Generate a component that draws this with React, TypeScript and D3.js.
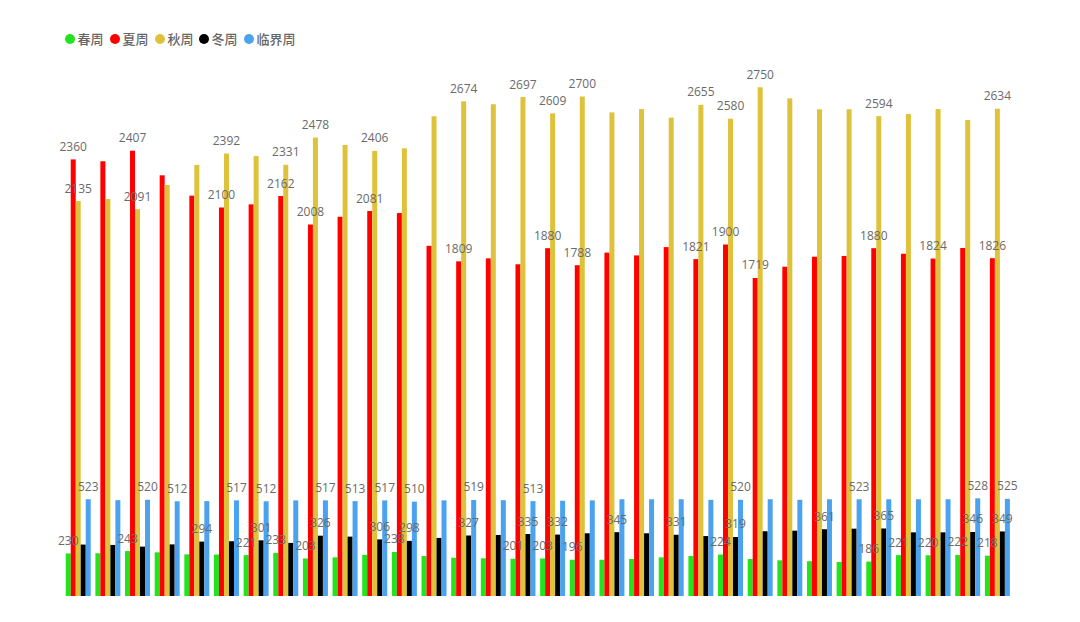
import React from "react";
import * as d3 from "d3";

const categories: string[] = Array.from({ length: 32 }, (_, i) => `第${i + 1}周`);

const seriesNames = ["春周", "夏周", "秋周", "冬周", "临界周"];
const seriesColors = ["#22e41c", "#ff0000", "#dfc23c", "#000000", "#4ba3ef"];

const spring = [230, 231, 243, 236, 225, 224, 221, 233, 203, 209, 222, 238, 216, 207, 204, 201,
  203, 196, 196, 200, 209, 216, 224, 200, 193, 188, 184, 186, 221, 220, 222, 218];
const summer = [2360, 2350, 2407, 2274, 2164, 2100, 2117, 2162, 2008, 2050, 2081, 2070, 1893, 1809, 1825, 1793,
  1880, 1788, 1856, 1841, 1886, 1821, 1900, 1719, 1780, 1834, 1838, 1880, 1850, 1824, 1881, 1826];
const autumn = [2135, 2146, 2091, 2222, 2330, 2392, 2378, 2331, 2478, 2438, 2406, 2420, 2593, 2674, 2658, 2697,
  2609, 2700, 2614, 2632, 2586, 2655, 2580, 2750, 2690, 2631, 2631, 2594, 2605, 2632, 2573, 2634];
const winter = [278, 276, 267, 279, 294, 296, 301, 287, 326, 321, 306, 298, 314, 327, 330, 335,
  332, 339, 345, 339, 331, 324, 319, 350, 353, 361, 364, 365, 344, 344, 346, 349];
const critical = [523, 518, 520, 512, 513, 517, 512, 517, 517, 513, 517, 510, 517, 519, 518, 513,
  515, 517, 523, 523, 523, 520, 520, 523, 520, 523, 523, 523, 523, 523, 528, 525];

// which bars carry a value label in the original
const springLabels = [0, 2, 6, 7, 8, 11, 15, 16, 17, 22, 27, 28, 29, 30, 31];
const summerLabels = [0, 2, 5, 7, 8, 10, 13, 16, 17, 21, 22, 23, 27, 29, 31];
const autumnLabels = [0, 2, 5, 7, 8, 10, 13, 15, 16, 17, 21, 22, 23, 27, 31];
const winterLabels = [4, 6, 8, 10, 11, 13, 15, 16, 18, 20, 22, 25, 27, 30, 31];
const criticalLabels = [0, 2, 3, 5, 6, 8, 9, 10, 11, 13, 15, 22, 26, 30, 31];

const W = 1080;
const H = 622;

const App: React.FC = () => {
  const allValues = [spring, summer, autumn, winter, critical];
  const allLabels = [springLabels, summerLabels, autumnLabels, winterLabels, criticalLabels];

  const x0 = d3
    .scaleBand<string>()
    .domain(categories)
    .range([63.4, 1012.2])
    .paddingInner(0.157)
    .paddingOuter(0.0785);

  const x1 = d3
    .scaleBand<string>()
    .domain(seriesNames)
    .range([0, x0.bandwidth()]);

  const y = d3.scaleLinear().domain([0, 3000]).range([596, 41]);

  // legend item positions
  const legendX = [65, 110, 155, 199, 244];

  return (
    <svg
      width={W}
      height={H}
      style={{ position: "absolute", left: 0, top: 0, background: "#fff" }}
    >
      <g>
        {seriesNames.map((name, s) => (
          <g key={name} transform={`translate(${legendX[s]},39)`}>
            <circle cx={5} cy={0} r={5} fill={seriesColors[s]} />
            <text
              x={12.5}
              y={0}
              dy="0.35em"
              fontSize={13}
              fontWeight={500}
              fill="#666"
              fontFamily="'Noto Sans CJK SC', sans-serif"
            >
              {name}
            </text>
          </g>
        ))}
      </g>

      <g>
        {allValues.map((vals, s) => (
          <g key={seriesNames[s]} fill={seriesColors[s]}>
            {vals.map((v, i) => (
              <rect
                key={i}
                x={(x0(categories[i]) ?? 0) + (x1(seriesNames[s]) ?? 0)}
                y={y(v)}
                width={x1.bandwidth()}
                height={y(0) - y(v)}
              />
            ))}
          </g>
        ))}
      </g>

      <g fontFamily="'Open Sans', 'Noto Sans', sans-serif" fontSize={12} fill="#6a6a6a" textAnchor="middle">
        {allValues.map((vals, s) =>
          allLabels[s].map((i) => (
            <text
              key={`${s}-${i}`}
              x={(x0(categories[i]) ?? 0) + (x1(seriesNames[s]) ?? 0) + x1.bandwidth() / 2}
              y={y(vals[i]) - 8.5}
            >
              {vals[i]}
            </text>
          ))
        )}
      </g>
    </svg>
  );
};

export default App;
